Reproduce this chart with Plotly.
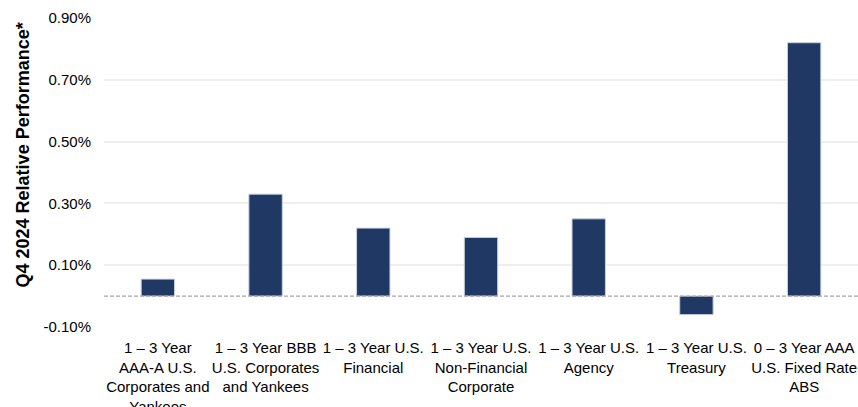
import plotly.graph_objects as go

categories = [
    "1 – 3 Year<br>AAA-A U.S.<br>Corporates and<br>Yankees",
    "1 – 3 Year BBB<br>U.S. Corporates<br>and Yankees",
    "1 – 3 Year U.S.<br>Financial",
    "1 – 3 Year U.S.<br>Non-Financial<br>Corporate",
    "1 – 3 Year U.S.<br>Agency",
    "1 – 3 Year U.S.<br>Treasury",
    "0 – 3 Year AAA<br>U.S. Fixed Rate<br>ABS",
]
values = [0.055, 0.33, 0.22, 0.19, 0.25, -0.06, 0.82]
tick_vals = [-0.1, 0.1, 0.3, 0.5, 0.7, 0.9]
tick_text = ["-0.10%", "0.10%", "0.30%", "0.50%", "0.70%", "0.90%"]
y_title = "Q4 2024 Relative Performance*"

FONT = "Liberation Sans, Arial, sans-serif"

fig = go.Figure(go.Bar(
    x=categories, y=values,
    marker=dict(color="#203864", line=dict(color="#c9d0dc", width=1)),
    width=0.31,
))

fig.add_shape(type="line", xref="paper", yref="y", x0=0, x1=1, y0=0, y1=0,
              line=dict(color="#a6a6a6", width=1.3, dash="4px,2px"))

fig.add_annotation(text="<b>" + y_title + "</b>", textangle=-90,
                   xref="paper", yref="paper", x=-0.108, y=0.557,
                   xanchor="center", yanchor="middle", showarrow=False,
                   font=dict(family=FONT, size=18, color="#000000"))

fig.update_layout(
    width=858, height=407,
    margin=dict(l=104, r=0, t=18, b=80),
    paper_bgcolor="white", plot_bgcolor="white",
    showlegend=False,
    font=dict(family=FONT, size=15, color="#000000"),
)
fig.update_xaxes(showgrid=False, showline=False, ticks="", tickangle=0,
                 automargin=False,
                 tickfont=dict(family=FONT, size=15, color="#000000"),
                 ticklabelstandoff=10)
fig.update_yaxes(range=[-0.1, 0.9], tickvals=tick_vals, ticktext=tick_text,
                 automargin=False,
                 showgrid=True, gridcolor="#efefef", gridwidth=1.5,
                 zeroline=False, showline=False,
                 tickfont=dict(family=FONT, size=15, color="#000000"),
                 ticklabelstandoff=12)

fig.write_html("out.html", config={"displayModeBar": False},
               post_script="document.body.style.margin='0';")
